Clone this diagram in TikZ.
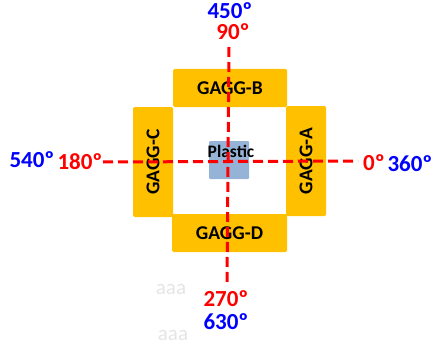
\documentclass[tikz,border=0pt]{standalone}
\usepackage{fontspec}
\setmainfont{Carlito}
\usepackage{xcolor}
\usepackage{tikz}
\usetikzlibrary{positioning}
\definecolor{gaggorange}{RGB}{255,192,0}
\definecolor{plasticblue}{RGB}{149,179,215}
\definecolor{axisred}{RGB}{255,0,0}
\definecolor{turnblue}{RGB}{0,0,255}
\tikzset{
  gaggbox/.style={fill=gaggorange, rounded corners=1.5pt, inner sep=0pt,
    font=\fontsize{19.5}{22}\selectfont\bfseries, text=black},
  plasticbox/.style={fill=plasticblue, rounded corners=1pt, minimum width=40pt, minimum height=38pt},
  firstlabel/.style={text=axisred, font=\fontsize{23}{26}\selectfont\bfseries, inner sep=0pt},
  secondlabel/.style={text=turnblue, font=\fontsize{23}{26}\selectfont\bfseries, inner sep=0pt},
  ghostlabel/.style={text=black!10, font=\fontsize{21}{24}\selectfont, inner sep=0pt},
  axis/.style={draw=axisred, line width=3pt, dash pattern=on 10pt off 5pt}
}

\begin{document}
\begin{tikzpicture}[x=1pt, y=-1pt]
\useasboundingbox (0,0) rectangle (434,345);

% detectors
\node[gaggbox, minimum width=114pt, minimum height=38pt] (gb) at (230,88) {GAGG-B\hspace{10pt}};
\node[gaggbox, minimum width=115pt, minimum height=38pt] (gd) at (229.5,233) {GAGG-D};
\node[gaggbox, minimum width=110pt, minimum height=40pt, rotate=90] (gc) at (153,162) {GAGG-C};
\node[gaggbox, minimum width=110pt, minimum height=40pt, rotate=90] (ga) at (306,161) {GAGG-A};
\node[plasticbox] (pl) at (229,160) {};
\node[font=\fontsize{17.5}{20}\selectfont\bfseries, inner sep=0pt] (pltxt) at (231,151) {Plastic};

% angle labels
\node[secondlabel] (l450) at (230,11) {450º};
\node[firstlabel] (l90) at (233,32) {90º};
\node[secondlabel] (l540) at (32,160) {540º};
\node[firstlabel] (l180) at (80,162) {180º};
\node[firstlabel] (l0) at (374,163) {0º};
\node[secondlabel] (l360) at (410,164) {360º};
\node[firstlabel] (l270) at (226,299) {270º};
\node[secondlabel] (l630) at (226,322) {630º};
\node[ghostlabel] (g1) at (171,289) {aaa};
\node[ghostlabel] (g2) at (173,335) {aaa};

% axes
\coordinate (ytop) at (229,47);
\coordinate (ybot) at (227,283);
\coordinate (xleft) at (103,162);
\coordinate (xright) at (358,161);
\draw[axis] (xleft) -- (xright);
\draw[axis] (ytop) -- (ybot);
\end{tikzpicture}
\end{document}
